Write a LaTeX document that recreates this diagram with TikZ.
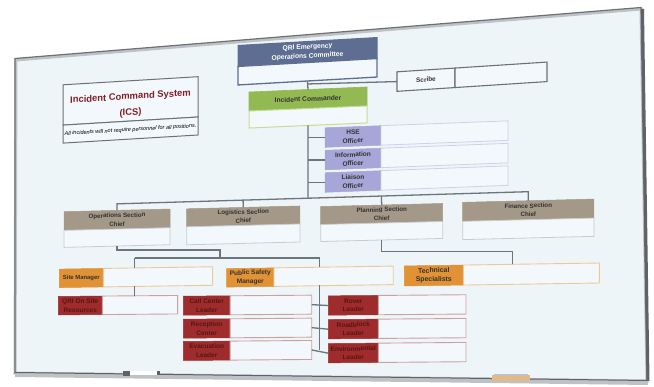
\documentclass[tikz,border=0pt]{standalone}
\usepackage{fontspec}
\setmainfont{Liberation Sans}
\usetikzlibrary{calc}
\definecolor{slate}{RGB}{94,110,146}
\definecolor{icgreen}{RGB}{147,186,82}
\definecolor{icpale}{RGB}{196,220,150}
\definecolor{lav}{RGB}{166,166,216}
\definecolor{lavpale}{RGB}{205,210,230}
\definecolor{taupe}{RGB}{164,152,136}
\definecolor{greypale}{RGB}{200,204,208}
\definecolor{orng}{RGB}{224,146,52}
\definecolor{orngpale}{RGB}{238,200,150}
\definecolor{redc}{RGB}{158,44,44}
\definecolor{redpale}{RGB}{205,160,160}
\definecolor{redtxt}{RGB}{90,20,20}
\definecolor{txtdark}{RGB}{50,50,50}
\definecolor{icsred}{RGB}{130,30,35}
\definecolor{conncol}{RGB}{108,116,124}
\definecolor{boardfill}{RGB}{238,245,249}
\definecolor{bodyfill}{RGB}{242,248,251}
\definecolor{framegrey}{RGB}{110,112,116}
\definecolor{framelight}{RGB}{190,194,198}
\definecolor{framedark}{RGB}{95,98,102}
\tikzset{
  lbl/.style={inner sep=0pt, outer sep=0pt, align=center, text=txtdark, font=\bfseries\fontsize{6.5}{8.6}\selectfont},
  box/.style={inner sep=0pt, outer sep=0pt},
  qrihead/.style={lbl, fill=slate, draw=slate, line width=1pt, text=white, font=\bfseries\fontsize{6.7}{9}\selectfont},
  qribody/.style={box, draw=slate, line width=1.3pt, fill=bodyfill},
  scribehead/.style={lbl, draw=framegrey, line width=1.1pt, fill=bodyfill, font=\bfseries\fontsize{6.4}{8}\selectfont},
  scribebody/.style={box, draw=framegrey, line width=1.1pt, fill=bodyfill},
  ichead/.style={lbl, fill=icgreen, draw=icgreen, line width=.6pt, font=\bfseries\fontsize{6.7}{8}\selectfont},
  icbody/.style={box, draw=icpale, line width=1pt, fill=bodyfill},
  offhead/.style={lbl, fill=lav, draw=lav, line width=.5pt},
  offbody/.style={box, draw=lavpale, line width=.8pt, fill=bodyfill},
  sechead/.style={lbl, fill=taupe, draw=taupe, line width=.5pt, font=\bfseries\fontsize{6.2}{8.6}\selectfont},
  secbody/.style={box, draw=greypale, line width=.8pt, fill=bodyfill},
  orghead/.style={lbl, fill=orng, draw=orng, line width=.5pt},
  orgbody/.style={box, draw=orngpale, line width=.9pt, fill=bodyfill},
  redhead/.style={lbl, fill=redc, draw=redc, line width=.5pt, text=redtxt},
  redbody/.style={box, draw=redpale, line width=.9pt, fill=bodyfill},
  conn/.style={draw=conncol, line width=1.3pt},
}
\begin{document}
\begin{tikzpicture}[x=1pt,y=-1pt]
\useasboundingbox (0,0) rectangle (654,387);
\fill[white] (0,0) rectangle (654,387);
% board
\fill[boardfill] (16,60) -- (641,9) -- (647,381) -- (15,373) -- cycle;
\draw[framelight, line width=3pt] (16,60) -- (641,9) -- (647,381) -- (15,373) -- cycle;
\draw[framegrey, line width=1.2pt] (15,58.5) -- (641,7.5) -- (647,381) -- (15,373) -- cycle;
\draw[framedark, line width=3pt] (642.5,9) -- (648,381);
\fill[framelight] (15,372) -- (648,380) -- (648,385) -- (15,377) -- cycle;
\draw[framedark, line width=1pt] (15,372.5) -- (648,380.5);
% marker and eraser
\fill[white] (127,370.8) rectangle (158,375.5);
\fill[framedark] (123,370.8) rectangle (130,375.8);
\fill[framedark] (157,371.5) rectangle (160,375.5);
\fill[orngpale!80!brown] (492,375.5) rectangle (530,381.5);
\fill[framelight] (494,374.5) rectangle (528,376);

% QRI
\node[qrihead, yslant=.057, minimum width=139, minimum height=21] (qri) at (307.5,52) {QRI Emergency\\Operations Committee};
\node[qribody, yslant=.057, minimum width=139, minimum height=18.5, anchor=north] (qrib) at (qri.south) {};
% Scribe
\node[scribehead, yslant=.065, minimum width=58, minimum height=19.5] (scribe) at (426,79.7) {Scribe};
\node[scribebody, yslant=.065, minimum width=92, minimum height=19.5, anchor=west] (scribeb) at (scribe.east) {};
% ICS
\node[box, draw=framegrey, line width=1pt, fill=bodyfill, yslant=.06, minimum width=135, minimum height=40.3, text=icsred, align=center, font=\bfseries\fontsize{9.4}{16}\selectfont] (ics) at (130.5,100.9) {\rule{0pt}{15pt}Incident Command System\\(ICS)};
\node[box, draw=framegrey, line width=1pt, fill=bodyfill, yslant=.06, minimum width=135, minimum height=18, text=black, font=\itshape\fontsize{5.5}{6}\selectfont, anchor=north] (icsnote) at (ics.south) {All incidents will not require personnel for all positions.};
% Incident Commander
\node[ichead, yslant=.043, minimum width=118, minimum height=19] (ic) at (308,99) {Incident Commander};
\node[icbody, yslant=.043, minimum width=118, minimum height=17, anchor=north] (icb) at (ic.south) {};
% Officers
\node[offhead, yslant=.038, minimum width=56, minimum height=19.5] (hse) at (353,136.5) {HSE\\Officer};
\node[offbody, yslant=.038, minimum width=127, minimum height=19.5, anchor=west] (hseb) at (hse.east) {};
\node[offhead, yslant=.038, minimum width=56, minimum height=19.5] (info) at (353,159) {Information\\Officer};
\node[offbody, yslant=.038, minimum width=127, minimum height=19.5, anchor=west] (infob) at (info.east) {};
\node[offhead, yslant=.038, minimum width=56, minimum height=19.5] (liai) at (353,181.5) {Liaison\\Officer};
\node[offbody, yslant=.038, minimum width=127, minimum height=19.5, anchor=west] (liaib) at (liai.east) {};
% Sections
\node[sechead, yslant=.025, minimum width=106, minimum height=18.7] (ops) at (117,219.7) {Operations Section\\Chief};
\node[secbody, yslant=.025, minimum width=106, minimum height=17, anchor=north] (opsb) at (ops.south) {};
\node[sechead, yslant=.025, minimum width=113.3, minimum height=18] (log) at (243.3,216.4) {Logistics Section\\Chief};
\node[secbody, yslant=.025, minimum width=113.3, minimum height=18, anchor=north] (logb) at (log.south) {};
\node[sechead, yslant=.025, minimum width=122, minimum height=18] (plan) at (381.7,214) {Planning Section\\Chief};
\node[secbody, yslant=.025, minimum width=122, minimum height=17, anchor=north] (planb) at (plan.south) {};
\node[sechead, yslant=.025, minimum width=131.3, minimum height=19] (fin) at (528.3,210.2) {Finance Section\\Chief};
\node[secbody, yslant=.025, minimum width=131.3, minimum height=18.3, anchor=north] (finb) at (fin.south) {};
% Orange row
\node[orghead, yslant=.015, minimum width=44, minimum height=18.5, font=\bfseries\fontsize{5.9}{8.6}\selectfont] (sm) at (81.3,278) {Site Manager};
\node[orgbody, yslant=.015, minimum width=109.3, minimum height=18.5, anchor=west] (smb) at (sm.east) {};
\node[orghead, yslant=.015, minimum width=47.3, minimum height=18.5] (psm) at (250.3,277.5) {Public Safety\\Manager};
\node[orgbody, yslant=.015, minimum width=119.3, minimum height=18.5, anchor=west] (psmb) at (psm.east) {};
\node[orghead, yslant=.015, minimum width=59, minimum height=20, font=\bfseries\fontsize{6.9}{8.8}\selectfont] (tech) at (433.8,275.5) {Technical\\Specialists};
\node[orgbody, yslant=.015, minimum width=136, minimum height=20, anchor=west] (techb) at (tech.east) {};
% Red row
\node[redhead, yslant=.008, minimum width=44, minimum height=18.5] (qosr) at (80.3,305.5) {QRI On Site\\Resources};
\node[redbody, yslant=.008, minimum width=75.3, minimum height=18.5, anchor=west] (qosrb) at (qosr.east) {};
\node[redhead, yslant=.008, minimum width=46.7, minimum height=19] (ccl) at (206.7,305.5) {Call Center\\Leader};
\node[redbody, yslant=.008, minimum width=81.7, minimum height=19, anchor=west] (cclb) at (ccl.east) {};
\node[redhead, yslant=.008, minimum width=46.7, minimum height=19] (rc) at (206.7,328.5) {Reception\\Center};
\node[redbody, yslant=.008, minimum width=81.7, minimum height=19, anchor=west] (rcb) at (rc.east) {};
\node[redhead, yslant=.008, minimum width=46.7, minimum height=19] (el) at (206.7,350.8) {Evacuation\\Leader};
\node[redbody, yslant=.008, minimum width=81.7, minimum height=19, anchor=west] (elb) at (el.east) {};
\node[redhead, yslant=.008, minimum width=50, minimum height=19.3] (rover) at (353.3,305.3) {Rover\\Leader};
\node[redbody, yslant=.008, minimum width=87.7, minimum height=19.3, anchor=west] (roverb) at (rover.east) {};
\node[redhead, yslant=.008, minimum width=50, minimum height=19.3] (road) at (353.3,329) {Roadblock\\Leader};
\node[redbody, yslant=.008, minimum width=87.7, minimum height=19.3, anchor=west] (roadb) at (road.east) {};
\node[redhead, yslant=.008, minimum width=50, minimum height=19.3] (env) at (353.3,353) {Environmental\\Leader};
\node[redbody, yslant=.008, minimum width=87.7, minimum height=19.3, anchor=west] (envb) at (env.east) {};

% connectors
\draw[conn] (qrib.south) -- (ic.north);
\coordinate (scj) at ($(qrib.south)!0.35!(ic.north)$);
\draw[conn] (scj) -- (scribe.west);
\coordinate (busL) at ($(ops.north)+(0,-6.5)$);
\coordinate (busR) at ($(fin.north)+(0,-9)$);
\draw[conn] (ops.north) -- (busL) -- (busR) -- (fin.north);
\draw[conn] (log.north) -- ($(busL)!(log.north)!(busR)$);
\draw[conn] (plan.north) -- ($(busL)!(plan.north)!(busR)$);
\coordinate (icfoot) at ($(icb.south)+(0,90)$);
\draw[conn] (icb.south) -- (intersection of busL--busR and icb.south--icfoot);
\draw[conn] (hse.west) -- (hse.west -| icb.south);
\draw[conn] (info.west) -- (info.west -| icb.south);
\draw[conn] (liai.west) -- (liai.west -| icb.south);
\coordinate (opsj) at (220,258);
\draw[conn] (opsb.south) -- ++(0,4) -| (opsj);
\coordinate (smx) at (134.5,258);
\coordinate (psx) at (319.5,258);
\draw[conn] (smx) -- (psx);
\draw[conn] (smx) -- (smb.north -| smx);
\draw[conn] (psx) -- (psmb.north -| psx);
\draw[conn] (smb.south -| smx) -- (qosrb.north -| smx);
\draw[conn] (psmb.south -| psx) -- (elb.east -| psx);
\draw[conn] (cclb.east) -- (rover.west);
\draw[conn] (rcb.east) -- (road.west);
\draw[conn] (elb.east) -- (env.west);
\coordinate (tx) at (512.7,251.7);
\draw[conn] (planb.south) |- (tx) -- (techb.north -| tx);
\end{tikzpicture}
\end{document}
